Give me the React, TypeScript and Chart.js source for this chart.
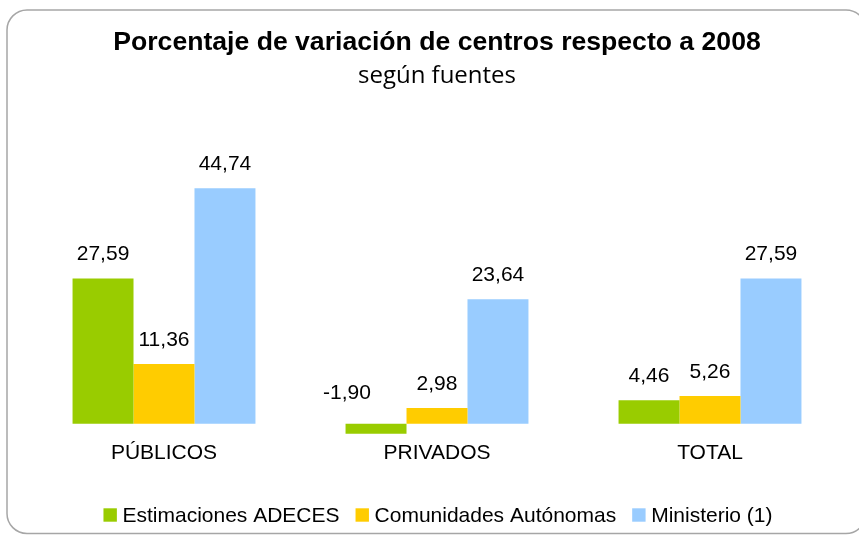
import React, { useEffect, useRef } from "react";
import { Chart, registerables } from "chart.js";

Chart.register(...registerables);

const categories = ["PÚBLICOS", "PRIVADOS", "TOTAL"];
const seriesNames = ["Estimaciones ADECES", "Comunidades Autónomas", "Ministerio (1)"];
const adeces = [27.59, -1.9, 4.46];
const comunidades = [11.36, 2.98, 5.26];
const ministerio = [44.74, 23.64, 27.59];
const colors = ["#99CC00", "#FFCC00", "#99CCFF"];
const titleText = "Porcentaje de variación de centros respecto a 2008";
const subtitleText = "según fuentes";

const SANS = "'Liberation Sans', Arial, sans-serif";

const boxPlugin = {
  id: "roundBox",
  beforeDraw(chart: any) {
    const ctx = chart.ctx;
    const x = 7, y = 10, w = 859, h = 523.5, r = 20;
    ctx.save();
    ctx.fillStyle = "#ffffff";
    ctx.fillRect(0, 0, chart.width, chart.height);
    ctx.beginPath();
    ctx.moveTo(x + r, y);
    ctx.lineTo(x + w - r, y);
    ctx.arcTo(x + w, y, x + w, y + r, r);
    ctx.lineTo(x + w, y + h - r);
    ctx.arcTo(x + w, y + h, x + w - r, y + h, r);
    ctx.lineTo(x + r, y + h);
    ctx.arcTo(x, y + h, x, y + h - r, r);
    ctx.lineTo(x, y + r);
    ctx.arcTo(x, y, x + r, y, r);
    ctx.closePath();
    ctx.strokeStyle = "#a6a6a6";
    ctx.lineWidth = 1.5;
    ctx.stroke();
    ctx.restore();
  },
};

const valueLabelPlugin = {
  id: "valueLabels",
  afterDatasetsDraw(chart: any) {
    const ctx = chart.ctx;
    const yScale = chart.scales.y;
    const zero = yScale.getPixelForValue(0);
    ctx.save();
    ctx.font = `21px ${SANS}`;
    ctx.fillStyle = "#000";
    ctx.textAlign = "center";
    ctx.textBaseline = "middle";
    chart.data.datasets.forEach((ds: any, di: number) => {
      const meta = chart.getDatasetMeta(di);
      meta.data.forEach((el: any, i: number) => {
        const v = ds.data[i];
        const txt = v.toFixed(2).replace(".", ",");
        if (v >= 0) {
          ctx.fillText(txt, el.x, el.y - 24);
        } else {
          ctx.fillText(txt, el.x - 29, zero - 30);
        }
      });
    });
    ctx.restore();
  },
};

const legendPlugin = {
  id: "customLegend",
  afterDraw(chart: any) {
    const ctx = chart.ctx;
    ctx.save();
    ctx.font = `21px ${SANS}`;
    ctx.textBaseline = "middle";
    ctx.textAlign = "left";
    const box = 13.4, gapText = 5.6, gapItem = 16;
    const widths = seriesNames.map((s) => ctx.measureText(s).width);
    const total = widths.reduce((a, b) => a + b, 0) + seriesNames.length * (box + gapText) + (seriesNames.length - 1) * gapItem;
    const cx = (chart.chartArea.left + chart.chartArea.right) / 2 + 1;
    let x = cx - total / 2;
    const yc = 515;
    seriesNames.forEach((s, i) => {
      ctx.fillStyle = colors[i];
      ctx.fillRect(x, yc - box / 2, box, box);
      x += box + gapText;
      ctx.fillStyle = "#000";
      ctx.fillText(s, x, yc + 1);
      x += widths[i] + gapItem;
    });
    ctx.restore();
  },
};

export default function App() {
  const ref = useRef<HTMLCanvasElement>(null);
  useEffect(() => {
    if (!ref.current) return;
    const chart = new Chart(ref.current, {
      type: "bar",
      data: {
        labels: categories,
        datasets: [
          { label: seriesNames[0], data: adeces, backgroundColor: colors[0] },
          { label: seriesNames[1], data: comunidades, backgroundColor: colors[1] },
          { label: seriesNames[2], data: ministerio, backgroundColor: colors[2] },
        ],
      },
      options: {
        animation: false,
        responsive: false,
        devicePixelRatio: 1,
        layout: { padding: { left: 27.5, right: 12.5, top: 0, bottom: 62.8 } },
        datasets: { bar: { categoryPercentage: 0.67, barPercentage: 1.0 } },
        plugins: {
          legend: { display: false },
          tooltip: { enabled: false },
          title: {
            display: true,
            text: titleText,
            color: "#000",
            font: { family: SANS, size: 26.6, weight: "bold", lineHeight: 1.2 },
            padding: { top: 26.5, bottom: 1.6 },
          },
          subtitle: {
            display: true,
            text: subtitleText,
            color: "#000",
            font: { family: "'Open Sans', 'Noto Sans', sans-serif", size: 24, lineHeight: 1.2 },
            padding: { top: 1.6, bottom: 70.25 },
          },
        },
        scales: {
          x: {
            grid: { display: false, drawTicks: false },
            border: { display: false },
            ticks: { color: "#000", font: { family: SANS, size: 21, lineHeight: 1.2 }, padding: 6.4 },
          },
          y: { display: false, min: -2, max: 50 },
        },
      },
      plugins: [boxPlugin, valueLabelPlugin, legendPlugin],
    } as any);
    return () => chart.destroy();
  }, []);
  return (
    <div style={{ position: "absolute", left: 0, top: 0, width: 859, height: 535 }}>
      <canvas ref={ref} width={859} height={535} style={{ display: "block" }} />
    </div>
  );
}
